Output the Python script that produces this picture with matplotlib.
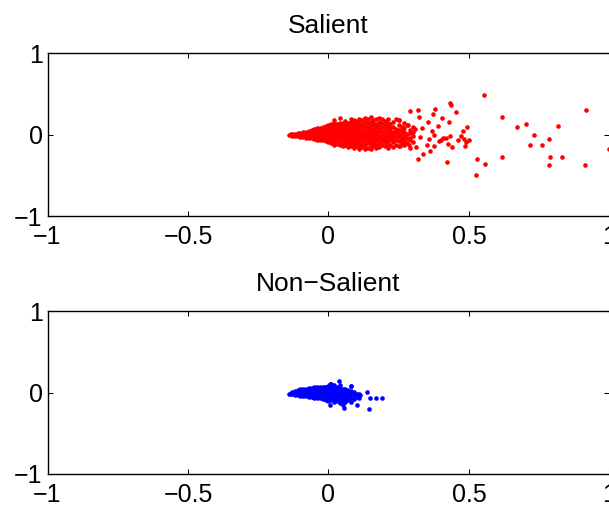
import matplotlib.pyplot as plt

# valores: (x, [y...]) por coluna na parte densa
salient_cols = [
    (-0.14, [0.0]),
    (-0.135, [0.0, 0.01]),
    (-0.13, [0.0, -0.01, 0.01]),
    (-0.12, [0.0, 0.015, -0.015]),
    (-0.11, [0.0, 0.02, -0.02]),
    (-0.10, [-0.025, 0.0, 0.025, 0.01]),
    (-0.09, [-0.03, -0.005, 0.02, 0.035]),
    (-0.08, [-0.035, -0.01, 0.015, 0.04]),
    (-0.07, [-0.04, -0.015, 0.01, 0.035, 0.05]),
    (-0.06, [-0.045, -0.02, 0.005, 0.03, 0.055]),
    (-0.05, [-0.05, -0.025, 0.0, 0.025, 0.05, 0.065]),
    (-0.04, [-0.06, -0.03, 0.0, 0.03, 0.06, 0.08]),
    (-0.03, [-0.065, -0.035, -0.005, 0.025, 0.055, 0.085]),
    (-0.02, [-0.07, -0.04, -0.01, 0.02, 0.05, 0.08, 0.1]),
    (-0.01, [-0.08, -0.045, -0.015, 0.015, 0.045, 0.075, 0.11]),
    (0.00, [-0.09, -0.05, -0.02, 0.01, 0.04, 0.07, 0.1, 0.12]),
    (0.01, [-0.1, -0.06, -0.025, 0.005, 0.035, 0.065, 0.095, 0.13]),
    (0.02, [-0.13, -0.09, -0.055, -0.02, 0.015, 0.05, 0.08, 0.11, 0.14, 0.185]),
    (0.03, [-0.11, -0.07, -0.035, 0.0, 0.03, 0.06, 0.09, 0.13]),
    (0.04, [-0.12, -0.08, -0.04, -0.01, 0.02, 0.05, 0.08, 0.11, 0.15, 0.21]),
    (0.05, [-0.14, -0.1, -0.06, -0.025, 0.01, 0.045, 0.075, 0.105, 0.14]),
    (0.06, [-0.13, -0.09, -0.05, -0.015, 0.02, 0.055, 0.09, 0.12, 0.165]),
    (0.07, [-0.15, -0.11, -0.07, -0.03, 0.005, 0.04, 0.075, 0.11, 0.15]),
    (0.08, [-0.14, -0.1, -0.06, -0.02, 0.015, 0.05, 0.085, 0.12, 0.16, 0.2]),
    (0.09, [-0.16, -0.12, -0.08, -0.04, 0.0, 0.035, 0.07, 0.105, 0.14, 0.18]),
    (0.10, [-0.14, -0.1, -0.06, -0.02, 0.02, 0.06, 0.095, 0.13, 0.17]),
    (0.11, [-0.17, -0.13, -0.09, -0.05, -0.01, 0.03, 0.07, 0.11, 0.15, 0.2]),
    (0.12, [-0.15, -0.11, -0.07, -0.03, 0.01, 0.05, 0.09, 0.13, 0.185]),
    (0.13, [-0.18, -0.12, -0.08, -0.04, 0.0, 0.04, 0.08, 0.12, 0.16, 0.21]),
    (0.14, [-0.16, -0.1, -0.06, -0.02, 0.02, 0.06, 0.1, 0.14, 0.19]),
    (0.15, [-0.17, -0.13, -0.085, -0.045, -0.005, 0.035, 0.075, 0.115, 0.16, 0.22]),
    (0.16, [-0.14, -0.1, -0.06, -0.02, 0.02, 0.065, 0.105, 0.15, 0.185]),
    (0.17, [-0.165, -0.12, -0.075, -0.035, 0.005, 0.045, 0.09, 0.13, 0.2]),
    (0.18, [-0.15, -0.1, -0.055, -0.015, 0.03, 0.07, 0.115, 0.16, 0.21]),
    (0.19, [-0.13, -0.08, -0.04, 0.0, 0.05, 0.095, 0.14, 0.2]),
    (0.20, [-0.135, -0.09, -0.05, -0.01, 0.035, 0.08, 0.12, 0.17]),
    (0.21, [-0.16, -0.11, -0.065, -0.02, 0.02, 0.06, 0.1, 0.15, 0.2]),
    (0.22, [-0.12, -0.07, -0.03, 0.01, 0.05, 0.08, 0.13]),
    (0.23, [-0.15, -0.09, -0.045, 0.0, 0.04, 0.1, 0.16]),
    (0.24, [-0.12, -0.06, -0.02, 0.03, 0.07, 0.19]),
    (0.25, [-0.14, -0.08, -0.03, 0.015, 0.06, 0.12, 0.185]),
    (0.26, [-0.1, -0.05, 0.0, 0.045, 0.1]),
    (0.27, [-0.12, -0.06, -0.02, 0.03, 0.08, 0.15]),
    (0.28, [-0.1, -0.04, 0.01, 0.12]),
    (0.29, [-0.165, -0.07, -0.04, 0.02, 0.06]),
    (0.30, [-0.09, -0.01, 0.04, 0.1]),
]

# pontos espalhados (outliers) do Salient
salient_sparse_x = [0.29, 0.317, 0.321, 0.38, 0.372, 0.355, 0.39, 0.282, 0.252, 0.308,
                    0.333, 0.367, 0.377, 0.407, 0.393, 0.357, 0.324, 0.276, 0.288, 0.312,
                    0.336, 0.36, 0.351, 0.377, 0.318, 0.256, 0.553, 0.434, 0.437, 0.453,
                    0.405, 0.43, 0.493, 0.478, 0.417, 0.40, 0.433, 0.472, 0.483, 0.491,
                    0.499, 0.461, 0.427, 0.44, 0.487, 0.422, 0.527, 0.558, 0.526, 0.617,
                    0.619, 0.671, 0.703, 0.730, 0.716, 0.760, 0.784, 0.815, 0.787, 0.784,
                    0.830, 0.916, 0.913, 1.0]
salient_sparse_y = [0.29, 0.30, 0.22, 0.32, 0.26, 0.16, 0.11, 0.12, 0.185, 0.065,
                    0.08, 0.05, 0.0, -0.04, -0.08, -0.05, -0.03, -0.10, -0.12, -0.15,
                    -0.24, -0.20, -0.12, -0.14, -0.30, -0.14, 0.485, 0.39, 0.37, 0.28,
                    0.21, 0.16, 0.10, 0.05, -0.04, -0.06, -0.02, -0.02, -0.05, -0.09,
                    -0.07, -0.07, -0.11, -0.15, -0.14, -0.34, -0.30, -0.36, -0.49, 0.22,
                    -0.27, 0.09, 0.13, 0.0, -0.12, -0.12, -0.05, 0.11, -0.27, -0.37,
                    -0.27, 0.30, -0.37, -0.18]

nonsalient_cols = [
    (-0.14, [-0.01]),
    (-0.135, [-0.01, 0.0]),
    (-0.13, [-0.02, -0.005, 0.01]),
    (-0.12, [-0.025, -0.01, 0.005, 0.02]),
    (-0.11, [-0.03, -0.01, 0.01, 0.03]),
    (-0.10, [-0.035, -0.015, 0.005, 0.025, 0.04]),
    (-0.09, [-0.04, -0.02, 0.0, 0.02, 0.04]),
    (-0.08, [-0.045, -0.025, -0.005, 0.015, 0.035, 0.05]),
    (-0.07, [-0.05, -0.03, -0.01, 0.01, 0.03, 0.055]),
    (-0.06, [-0.055, -0.03, -0.01, 0.01, 0.03, 0.06]),
    (-0.05, [-0.06, -0.035, -0.015, 0.005, 0.025, 0.045, 0.065]),
    (-0.04, [-0.065, -0.04, -0.02, 0.0, 0.02, 0.04, 0.07]),
    (-0.03, [-0.07, -0.045, -0.02, 0.0, 0.02, 0.045, 0.065]),
    (-0.02, [-0.08, -0.05, -0.025, -0.005, 0.015, 0.04, 0.07]),
    (-0.01, [-0.085, -0.055, -0.03, -0.01, 0.01, 0.035, 0.075]),
    (0.00, [-0.1, -0.06, -0.035, -0.01, 0.015, 0.04, 0.08]),
    (0.01, [-0.09, -0.06, -0.03, 0.0, 0.03, 0.06, 0.11]),
    (0.02, [-0.12, -0.075, -0.045, -0.015, 0.015, 0.05, 0.09]),
    (0.03, [-0.1, -0.06, -0.03, 0.0, 0.03, 0.07]),
    (0.04, [-0.13, -0.08, -0.045, -0.01, 0.025, 0.06, 0.1]),
    (0.05, [-0.1, -0.06, -0.02, 0.02, 0.05]),
    (0.06, [-0.12, -0.075, -0.035, 0.0, 0.04]),
    (0.07, [-0.09, -0.05, -0.01, 0.03]),
    (0.08, [-0.11, -0.06, -0.02, 0.02, 0.088]),
    (0.09, [-0.08, -0.03, 0.01]),
    (0.10, [-0.154, -0.05, -0.01]),
    (0.11, [-0.07, -0.02]),
]

nonsalient_sparse_x = [0.037, 0.007, 0.081, -0.011, -0.035, 0.136, 0.148, 0.168, 0.189,
                       0.112, 0.145, 0.053, 0.055, 0.007, 0.067]
nonsalient_sparse_y = [0.146, 0.11, 0.088, 0.075, 0.0625, 0.004, -0.0625, -0.0625, -0.07,
                       -0.03, -0.196, -0.146, -0.19, -0.154, 0.004]

titles = ['Salient', 'Non\u2212Salient']
xticks = [-1, -0.5, 0, 0.5, 1]
yticks = [-1, 0, 1]


def flatten(cols, sx, sy):
    xs, ys = [], []
    for x, col in cols:
        for y in col:
            xs.append(x)
            ys.append(y)
    return xs + sx, ys + sy


plt.rcParams['font.family'] = ['Liberation Sans', 'DejaVu Sans']
fig = plt.figure(figsize=(6.09, 5.09), dpi=100)

ax1 = fig.add_axes([0.078, 0.5756, 0.9228, 0.3193])
ax2 = fig.add_axes([0.078, 0.0688, 0.9228, 0.3193])

data = [flatten(salient_cols, salient_sparse_x, salient_sparse_y),
        flatten(nonsalient_cols, nonsalient_sparse_x, nonsalient_sparse_y)]
colors = ['#ff0000', '#0000ff']

for ax, (xs, ys), c, t in zip([ax1, ax2], data, colors, titles):
    ax.plot(xs, ys, 'o', color=c, markersize=3.3, markeredgewidth=0, clip_on=False)
    ax.set_xlim(-1, 1)
    ax.set_ylim(-1, 1)
    ax.set_xticks(xticks)
    ax.set_xticklabels(['\u22121', '\u22120.5', '0', '0.5', '1'])
    ax.set_yticks(yticks)
    ax.set_yticklabels(['\u22121', '0', '1'])
    ax.tick_params(direction='in', length=3.6, width=0.75, top=True, right=True,
                   labelsize=18, colors='black')
    ax.tick_params(axis='x', pad=6.5)
    ax.tick_params(axis='y', pad=3.5)
    for s in ax.spines.values():
        s.set_linewidth(1.0)
    # borda direita fica fora da imagem no original
    ax.spines['right'].set_visible(False)
    ax.set_title(t, fontsize=19, pad=15)

plt.savefig('out.png', dpi=100)
